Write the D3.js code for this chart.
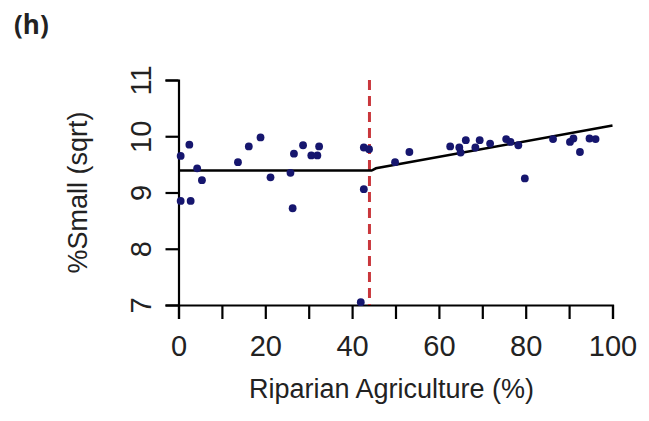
<!DOCTYPE html>
<html>
<head>
<meta charset="utf-8">
<script src="https://cdn.jsdelivr.net/npm/d3@7/dist/d3.min.js"></script>
<style>
  html, body { margin: 0; padding: 0; background: #fff; }
  svg text { font-family: Arial, "Liberation Sans", sans-serif; fill: #222; }
</style>
</head>
<body>
<svg id="chart" width="649" height="421"></svg>
<script>
// Riparian agriculture (%) for each site
const agriculture = [
  0.5, 2.5, 4.3, 5.4, 0.5, 2.8, 13.7, 16.2, 18.9, 21.2, 25.8, 26.6, 26.3,
  28.7, 30.6, 32.0, 32.4, 42.7, 43.9, 42.7, 42.0,
  49.9, 53.2, 62.6, 64.7, 65.0, 66.2, 68.4, 69.4, 71.8, 75.5, 76.5, 78.3,
  79.8, 86.3, 90.2, 91.0, 92.5, 94.7, 96.1
];
// Square-root transformed % small substrate at each site
const smallSqrt = [
  9.65, 9.85, 9.43, 9.22, 8.85, 8.85, 9.54, 9.82, 9.98, 9.27, 9.35, 9.69, 8.72,
  9.84, 9.66, 9.66, 9.82, 9.80, 9.77, 9.06, 7.05,
  9.54, 9.72, 9.82, 9.80, 9.71, 9.93, 9.80, 9.93, 9.87, 9.95, 9.90, 9.84,
  9.25, 9.95, 9.90, 9.96, 9.72, 9.96, 9.95
];
// Piecewise (breakpoint) regression fit
const fitX = [0, 44.5, 45.5, 100];
const fitY = [9.39, 9.39, 9.43, 10.19];
// Estimated breakpoint
const breakpoint = [44];

const xTicks = [0, 10, 20, 30, 40, 50, 60, 70, 80, 90, 100];
const xTickLabels = ["0", "20", "40", "60", "80", "100"];
const yTicks = [7, 8, 9, 10, 11];

const svg = d3.select("#chart");
const x = d3.scaleLinear().domain([0, 100]).range([178.5, 612.5]);
const y = d3.scaleLinear().domain([7, 11]).range([305, 80]);

// Panel label
svg.append("text").attr("x", 14).attr("y", 34)
  .style("font-family", "'Open Sans', Arial, sans-serif")
  .style("font-weight", "bold").style("font-size", "26px")
  .attr("fill", "#111")
  .text("(h)");

// X axis
const xAxis = svg.append("g").attr("transform", "translate(0,305)")
  .call(d3.axisBottom(x).tickValues(xTicks).tickSize(14).tickPadding(16)
    .tickFormat(d => xTickLabels.includes(String(d)) ? String(d) : ""));
xAxis.select(".domain").attr("stroke", "#000").attr("stroke-width", 2.2);
xAxis.selectAll(".tick line").attr("stroke", "#000").attr("stroke-width", 2.2);
xAxis.selectAll(".tick text").style("font-size", "29px").attr("fill", "#222")
  .style("font-family", "Arial, 'Liberation Sans', sans-serif");

// Y axis
const yAxis = svg.append("g").attr("transform", "translate(178.5,0)")
  .call(d3.axisLeft(y).tickValues(yTicks).tickSize(13).tickFormat(d3.format("d")));
yAxis.select(".domain").attr("stroke", "#000").attr("stroke-width", 2.2);
yAxis.selectAll(".tick line").attr("stroke", "#000").attr("stroke-width", 2.2);
yAxis.selectAll(".tick text")
  .attr("x", 0).attr("y", 0).attr("dy", null)
  .attr("text-anchor", "middle")
  .attr("transform", "translate(-28,0) rotate(-90)")
  .style("font-size", "29px").attr("fill", "#222")
  .style("font-family", "Arial, 'Liberation Sans', sans-serif");

// Axis titles
svg.append("text").attr("x", (x(0) + x(100)) / 2 - 4).attr("y", 398)
  .attr("text-anchor", "middle").style("font-size", "27px")
  .text("Riparian Agriculture (%)");
svg.append("text")
  .attr("transform", `translate(87,${(y(7) + y(11)) / 2}) rotate(-90)`)
  .attr("text-anchor", "middle").style("font-size", "27px")
  .text("%Small (sqrt)");

// Breakpoint marker
svg.selectAll("line.bp").data(breakpoint).enter().append("line")
  .attr("class", "bp")
  .attr("x1", d => x(d)).attr("x2", d => x(d))
  .attr("y1", y(11)).attr("y2", y(7))
  .attr("stroke", "#c9373c").attr("stroke-width", 3)
  .attr("stroke-dasharray", "10,6");

// Fitted line
const fit = fitX.map((v, i) => [v, fitY[i]]);
svg.append("path").datum(fit)
  .attr("fill", "none").attr("stroke", "#000").attr("stroke-width", 2.5)
  .attr("d", d3.line().x(d => x(d[0])).y(d => y(d[1])));

// Site points
svg.selectAll("circle.pt").data(agriculture).enter().append("circle")
  .attr("class", "pt")
  .attr("cx", d => x(d))
  .attr("cy", (d, i) => y(smallSqrt[i]))
  .attr("r", 3.9)
  .attr("fill", "#16166e");
</script>
</body>
</html>
